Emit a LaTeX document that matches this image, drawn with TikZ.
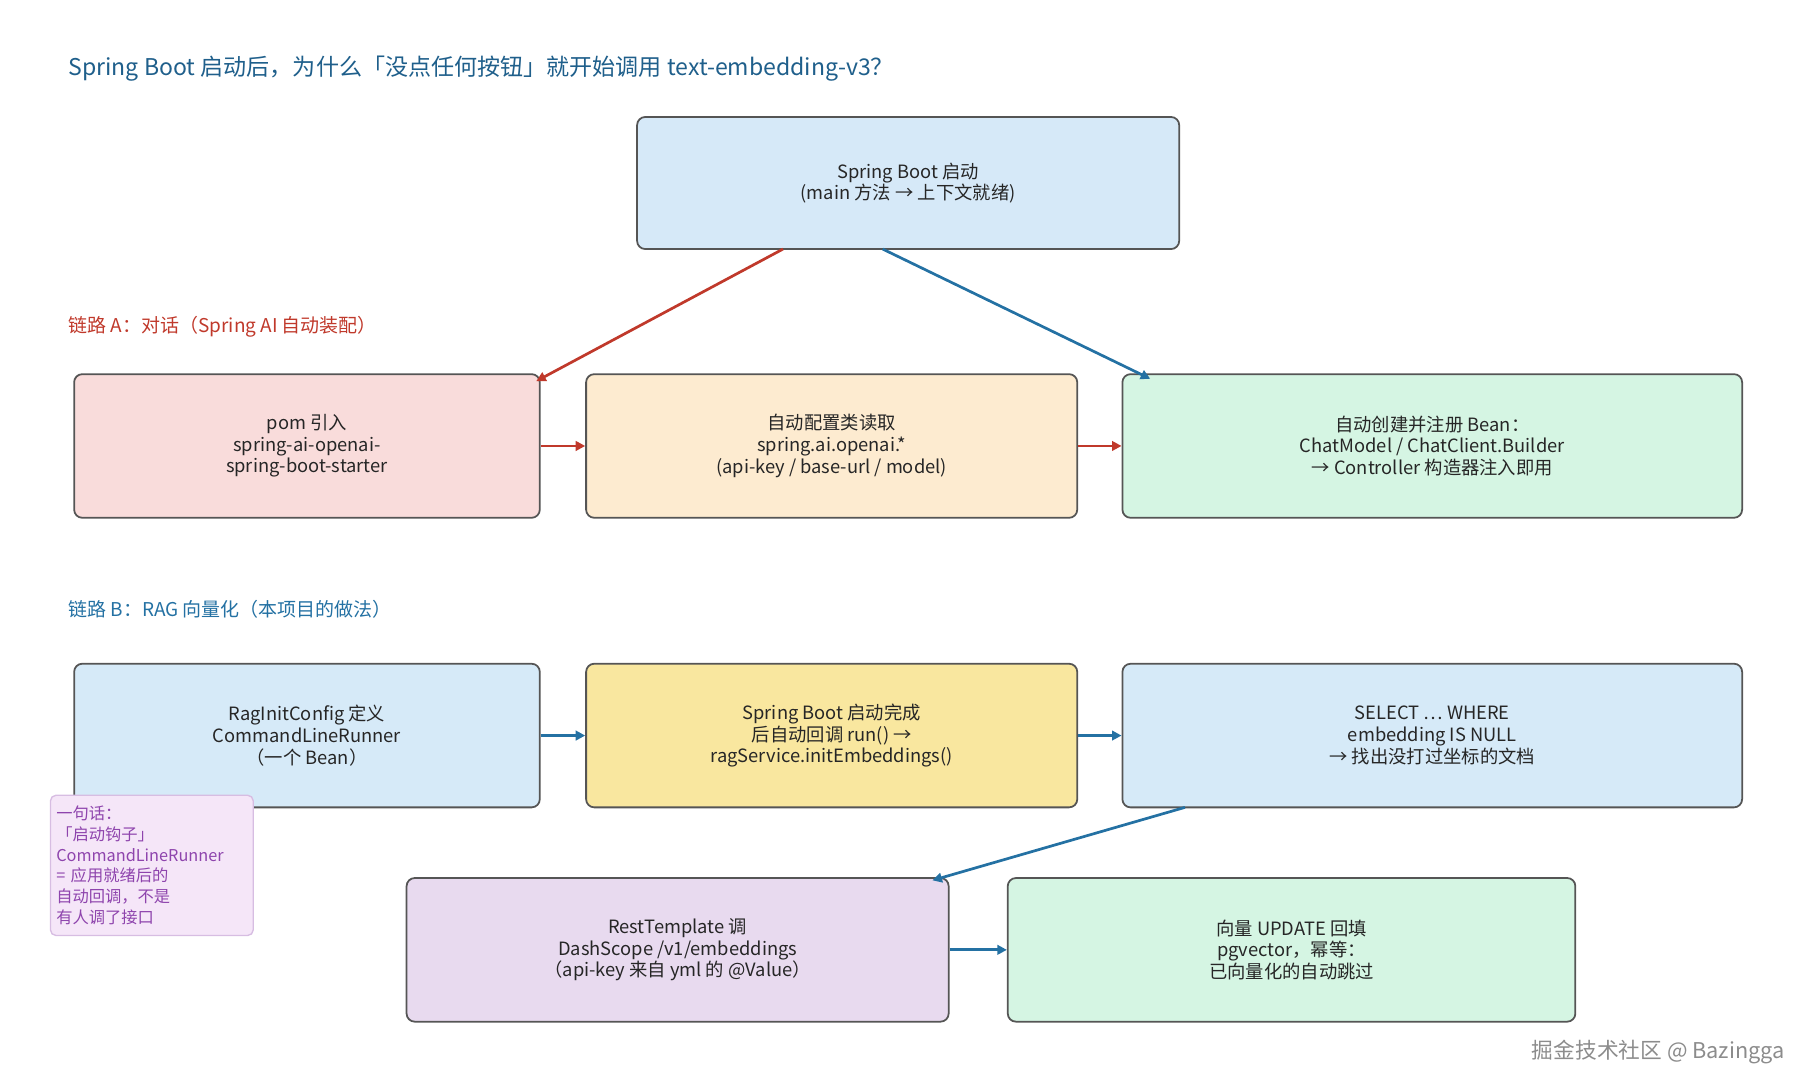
\documentclass[tikz,border=0pt]{standalone}
\usepackage{fontspec}
\setmainfont{Noto Sans CJK SC}
\usetikzlibrary{arrows.meta}
\definecolor{ttl}{HTML}{1F5F8B}
\definecolor{cred}{HTML}{C0392B}
\definecolor{cblue}{HTML}{2471A3}
\definecolor{bord}{HTML}{555555}
\begin{document}
\begin{tikzpicture}[x=0.03cm,y=-0.03cm,
 box/.style={draw=bord,line width=1.3pt,rounded corners=6pt,align=center,font=\fontsize{13.5pt}{16pt}\selectfont,text=black!85},
 ra/.style={cred,line width=2pt,-{Triangle[length=7pt,width=7pt]}},
 ba/.style={cblue,line width=2pt,-{Triangle[length=7pt,width=7pt]}}]
\useasboundingbox (0,0) rectangle (1560,942);
\node[anchor=west,text=ttl,font=\fontsize{17pt}{20pt}\selectfont] (title) at (55,59) {Spring Boot 启动后，为什么「没点任何按钮」就开始调用 text-embedding-v3？};
\node[box,fill={rgb,255:red,214;green,233;blue,248},minimum width=468*0.03cm,minimum height=114*0.03cm] (top) at (784,158) {Spring Boot 启动\\(main 方法 → 上下文就绪)};
\node[anchor=west,text=cred,font=\fontsize{14pt}{17pt}\selectfont] (la) at (55,282) {链路 A：对话（Spring AI 自动装配）};
\node[box,fill={rgb,255:red,249;green,220;blue,219},minimum width=402*0.03cm,minimum height=124*0.03cm] (a1) at (265,385) {pom 引入\\spring-ai-openai-\\spring-boot-starter};
\node[box,fill={rgb,255:red,253;green,235;blue,208},minimum width=424*0.03cm,minimum height=124*0.03cm] (a2) at (718,385) {自动配置类读取\\spring.ai.openai.*\\(api-key / base-url / model)};
\node[box,fill={rgb,255:red,213;green,245;blue,227},minimum width=535*0.03cm,minimum height=124*0.03cm] (a3) at (1236.5,385) {自动创建并注册 Bean：\\ChatModel / ChatClient.Builder\\→ Controller 构造器注入即用};
\node[anchor=west,text=cblue,font=\fontsize{14pt}{17pt}\selectfont] (lb) at (55,526) {链路 B：RAG 向量化（本项目的做法）};
\node[box,fill={rgb,255:red,214;green,234;blue,248},minimum width=402*0.03cm,minimum height=124*0.03cm] (b1) at (265,635) {RagInitConfig 定义\\CommandLineRunner\\（一个 Bean）};
\node[box,fill={rgb,255:red,249;green,231;blue,159},minimum width=424*0.03cm,minimum height=124*0.03cm] (b2) at (718,635) {Spring Boot 启动完成\\后自动回调 run() →\\ragService.initEmbeddings()};
\node[box,fill={rgb,255:red,214;green,234;blue,248},minimum width=535*0.03cm,minimum height=124*0.03cm] (b3) at (1236.5,635) {SELECT … WHERE\\embedding IS NULL\\→ 找出没打过坐标的文档};
\node[box,fill={rgb,255:red,232;green,218;blue,239},minimum width=468*0.03cm,minimum height=124*0.03cm] (b4) at (585,820) {RestTemplate 调\\DashScope /v1/embeddings\\（api-key 来自 yml 的 @Value）};
\node[box,fill={rgb,255:red,213;green,245;blue,227},minimum width=490*0.03cm,minimum height=124*0.03cm] (b5) at (1115,820) {向量 UPDATE 回填\\pgvector，幂等：\\已向量化的自动跳过};
\node[draw={rgb,255:red,215;green,189;blue,226},line width=1pt,rounded corners=4pt,fill={rgb,255:red,245;green,230;blue,248},text={rgb,255:red,142;green,68;blue,173},align=left,anchor=north west,inner sep=3pt,font=\fontsize{12pt}{15.3pt}\selectfont,minimum width=175*0.03cm,minimum height=121*0.03cm,text width=165*0.03cm] (note) at (43,686) {一句话：\\「启动钩子」\\CommandLineRunner\\= 应用就绪后的\\自动回调，不是\\有人调了接口};
\node[anchor=east,text=black!45,font=\fontsize{16pt}{19pt}\selectfont] (wm) at (1545,908) {掘金技术社区 @ Bazingga};
\coordinate (t1) at (676,215); \coordinate (t2) at (762,215);
\coordinate (e1) at (463,329); \coordinate (e2) at (993,327);
\draw[ra] (t1) -- (e1);
\draw[ba] (t2) -- (e2);
\draw[ra] (a1) -- (a2);
\draw[ra] (a2) -- (a3);
\draw[ba] (b1) -- (b2);
\draw[ba] (b2) -- (b3);
\coordinate (s3) at (1023,697); \coordinate (e4) at (805,760);
\draw[ba] (s3) -- (e4);
\draw[ba] (b4) -- (b5);
\end{tikzpicture}
\end{document}
